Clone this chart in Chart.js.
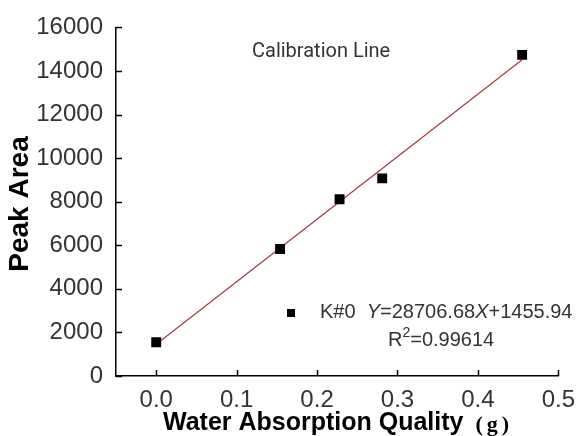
<!DOCTYPE html>
<html>
<head>
<meta charset="utf-8">
<script src="https://cdn.jsdelivr.net/npm/chart.js@4/dist/chart.umd.min.js"></script>
<style>
html,body{margin:0;padding:0;background:#fff;}
#wrap{width:585px;height:436px;position:relative;}
</style>
</head>
<body>
<div id="wrap"><canvas id="c" width="585" height="436"></canvas></div>
<script>
// Data
const sampleX = [0.0, 0.154, 0.228, 0.281, 0.455];
const peakArea = [1550, 5830, 8110, 9070, 14740];
// Calibration (fit) line end points, from Y=28706.68X+1455.94
const fitX = [0.0, 0.455];
const fitY = [1456, 14518];
const xTicks = [0.0, 0.1, 0.2, 0.3, 0.4, 0.5];
const yTicks = [0, 2000, 4000, 6000, 8000, 10000, 12000, 14000, 16000];
const titleText = 'Calibration Line';
const seriesName = 'K#0';
const equationSlope = '28706.68';
const equationIntercept = '1455.94';
const rSquared = '0.99614';

const SANS = '"Liberation Sans", Arial, sans-serif';
const SERIF = '"Liberation Serif", "Times New Roman", serif';

const pointsData = sampleX.map((x, i) => ({x: x, y: peakArea[i]}));
const lineData = fitX.map((x, i) => ({x: x, y: fitY[i]}));

const decor = {
  id: 'decor',
  afterDraw(chart) {
    const ctx = chart.ctx;
    const xs = chart.scales.x, ys = chart.scales.y;
    const ca = chart.chartArea;
    ctx.save();
    // inner tick marks
    ctx.strokeStyle = '#000';
    ctx.lineWidth = 1.5;
    xs.ticks.forEach(t => {
      const px = Math.round(xs.getPixelForValue(t.value)) + 0.5;
      ctx.beginPath(); ctx.moveTo(px, ca.bottom); ctx.lineTo(px, ca.bottom - 6); ctx.stroke();
    });
    ys.ticks.forEach(t => {
      const py = Math.round(ys.getPixelForValue(t.value)) + 0.5;
      ctx.beginPath(); ctx.moveTo(ca.left, py); ctx.lineTo(ca.left + 6, py); ctx.stroke();
    });

    // "Calibration Line"
    ctx.fillStyle = '#333';
    ctx.textBaseline = 'middle';
    ctx.textAlign = 'left';
    ctx.font = '20px Roboto, ' + SANS;
    ctx.fillText(titleText, 252, 52);

    // legend marker
    ctx.fillStyle = '#000';
    ctx.fillRect(287, 309, 8, 8);

    // equation line
    ctx.fillStyle = '#333';
    let x = 320; const y1 = 312;
    const parts = [
      [seriesName + '  ', 'normal'],
      ['Y', 'italic'],
      ['=' + equationSlope, 'normal'],
      ['X', 'italic'],
      ['+' + equationIntercept, 'normal']
    ];
    parts.forEach(p => {
      ctx.font = (p[1] === 'italic' ? 'italic ' : '') + '20px ' + SANS;
      ctx.fillText(p[0], x, y1);
      x += ctx.measureText(p[0]).width;
    });
    // R^2
    x = 388; const y2 = 340;
    ctx.font = '20px ' + SANS;
    ctx.fillText('R', x, y2); x += ctx.measureText('R').width;
    ctx.font = '14px ' + SANS;
    ctx.fillText('2', x, y2 - 7); x += ctx.measureText('2').width;
    ctx.font = '20px ' + SANS;
    ctx.fillText('=' + rSquared, x, y2);

    // y axis title
    ctx.fillStyle = '#000';
    ctx.font = 'bold 28px ' + SANS;
    ctx.translate(20, 204);
    ctx.rotate(-Math.PI / 2);
    ctx.textAlign = 'center';
    ctx.fillText('Peak Area', 0, 0);
    ctx.setTransform(1, 0, 0, 1, 0, 0);

    // x axis title
    ctx.textAlign = 'left';
    ctx.textBaseline = 'alphabetic';
    ctx.font = 'bold 25px ' + SANS;
    const t1 = 'Water Absorption Quality';
    let tx = 163;
    ctx.fillText(t1, tx, 430);
    tx += ctx.measureText(t1).width + 12;
    ctx.font = 'bold 22px ' + SERIF;
    ['(', 'g', ')'].forEach(ch => {
      ctx.fillText(ch, tx, 431);
      tx += ctx.measureText(ch).width + 4;
    });
    ctx.restore();
  }
};

new Chart(document.getElementById('c'), {
  type: 'scatter',
  data: {
    datasets: [
      {
        label: seriesName,
        data: pointsData,
        pointStyle: 'rect',
        pointRadius: 7,
        pointHoverRadius: 7,
        backgroundColor: '#000',
        borderColor: '#000',
        borderWidth: 0,
        showLine: false
      },
      {
        label: 'fit',
        data: lineData,
        showLine: true,
        pointRadius: 0,
        borderColor: '#a23b3b',
        borderWidth: 1.2,
        fill: false
      }
    ]
  },
  options: {
    responsive: false,
    animation: false,
    events: [],
    layout: {padding: {left: 0, top: 25, right: 20, bottom: 0}},
    plugins: {legend: {display: false}, tooltip: {enabled: false}},
    scales: {
      x: {
        type: 'linear',
        min: -0.05,
        max: 0.5,
        afterBuildTicks: s => { s.ticks = xTicks.map(v => ({value: v})); },
        afterFit: s => { s.height = 60; },
        grid: {display: false, drawTicks: false},
        border: {display: true, color: '#000', width: 1.5},
        ticks: {
          padding: 10,
          color: '#333',
          font: {family: SANS, size: 24},
          callback: v => Number(v).toFixed(1),
          maxRotation: 0,
          autoSkip: false
        }
      },
      y: {
        type: 'linear',
        min: 0,
        max: 16000,
        afterBuildTicks: s => { s.ticks = yTicks.map(v => ({value: v})); },
        afterFit: s => { s.width = 116; },
        grid: {display: false, drawTicks: false},
        border: {display: true, color: '#000', width: 1.5},
        ticks: {
          padding: 13,
          color: '#333',
          font: {family: SANS, size: 24},
          callback: v => String(v)
        }
      }
    }
  },
  plugins: [decor]
});
</script>
</body>
</html>
